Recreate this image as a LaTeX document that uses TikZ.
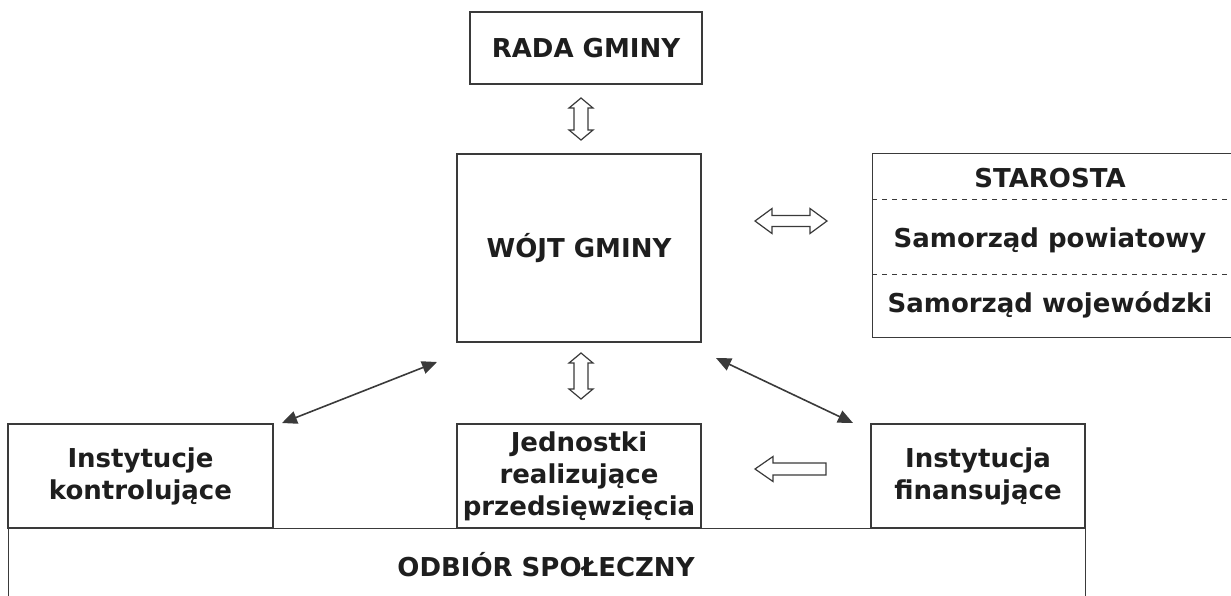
\documentclass[tikz,border=0pt]{standalone}
\usepackage{fontspec}
\setmainfont{DejaVu Sans}
\usetikzlibrary{arrows.meta}
\definecolor{ln}{HTML}{3A3A3A}
\definecolor{tx}{HTML}{1E1E1E}
\begin{document}
\begin{tikzpicture}[x=1pt,y=-1pt,
  txt/.style={text=tx, font=\fontsize{26}{32}\selectfont\bfseries, inner sep=0pt, align=center},
  box/.style={txt, draw=ln, line width=1.2pt, fill=white},
  hollow/.style={draw=ln, line width=1.2pt, fill=white, line join=miter},
  dashline/.style={draw=ln, line width=0.9pt, dash pattern=on 5pt off 5pt},
  link/.style={draw=ln, line width=1.6pt, {Triangle[length=15pt,width=13pt]}-{Triangle[length=15pt,width=13pt]}}]
\useasboundingbox (0,0) rectangle (1231,595);

% top boxes
\node[box, minimum width=232pt, minimum height=72pt] (rada) at (586,48) {RADA GMINY};
\node[box, minimum width=244pt, minimum height=188pt] (wojt) at (579,248) {WÓJT GMINY};

% starosta block
\node[box, anchor=north west, minimum width=370pt, minimum height=184pt] (star) at (872,153) {};
\draw[dashline] (star.west |- 0,199) coordinate (d1a) -- (1231,199) coordinate (d1b);
\draw[dashline] (star.west |- 0,274) coordinate (d2a) -- (1231,274) coordinate (d2b);
\node[txt] (starosta) at (1050,178) {STAROSTA};
\node[txt] (powiat) at (1050,240) {Samorząd powiatowy};
\node[txt] (wojew) at (1050,305) {Samorząd wojewódzki};

% bottom band
\node[box, anchor=north west, minimum width=1077pt, minimum height=80pt] (odb) at (8,528) {};
\node[txt] (odbtxt) at (546,565) {ODBIÓR SPOŁECZNY};

% lower boxes
\node[box, minimum width=265pt, minimum height=104pt] (kontr) at (140.5,476) {Instytucje\\kontrolujące};
\node[box, minimum width=244pt, minimum height=104pt] (jedn) at (579,476) {Jednostki\\realizujące\\przedsięwzięcia};
\node[box, minimum width=214pt, minimum height=104pt] (fin) at (978,476) {Instytucja\\finansujące};

% hollow arrows
\draw[hollow] (581,98) -- (593,108) -- (588,108) -- (588,130) -- (593,130) -- (581,140) -- (569,130) -- (574,130) -- (574,108) -- (569,108) -- cycle;
\draw[hollow] (581,353) -- (593,363) -- (588,363) -- (588,389) -- (593,389) -- (581,399) -- (569,389) -- (574,389) -- (574,363) -- (569,363) -- cycle;
\draw[hollow] (755,221) -- (772,208.5) -- (772,215.5) -- (810,215.5) -- (810,208.5) -- (827,221) -- (810,233.5) -- (810,226.5) -- (772,226.5) -- (772,233.5) -- cycle;
\draw[hollow] (755,469) -- (773,456.5) -- (773,463) -- (826,463) -- (826,475) -- (773,475) -- (773,481.5) -- cycle;

% diagonal connectors
\coordinate (w1) at (437,362);
\coordinate (k1) at (282,423);
\coordinate (w2) at (716,358);
\coordinate (f1) at (853,423);
\draw[link] (w1) -- (k1);
\draw[link] (w2) -- (f1);
\end{tikzpicture}
\end{document}
